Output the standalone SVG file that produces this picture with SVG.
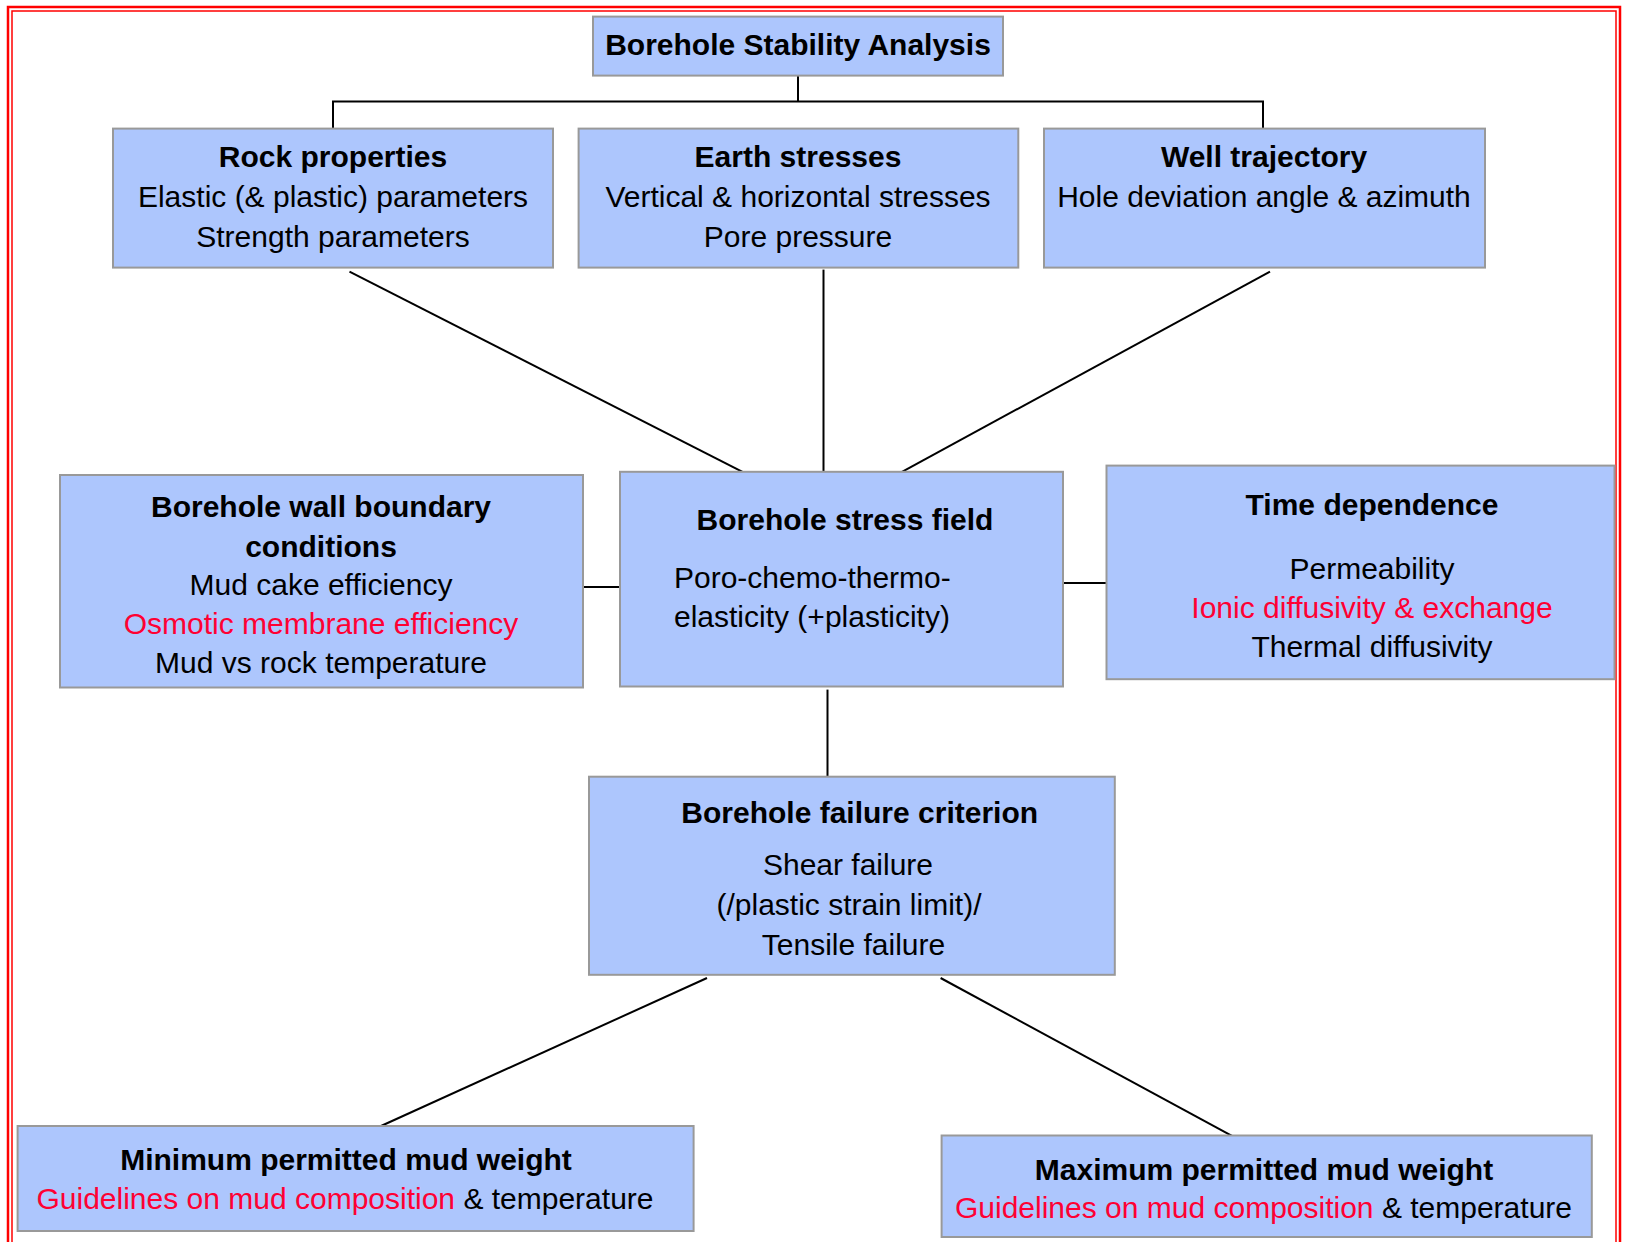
<svg xmlns="http://www.w3.org/2000/svg" width="1626" height="1242" viewBox="0 0 1626 1242">
<style>
.box{fill:#ADC6FD;stroke:#999999;stroke-width:2}
text{font-family:"Liberation Sans",Arial,sans-serif;font-size:30px;fill:#000;text-anchor:middle}
.b{font-weight:bold}
.r{fill:#FF0033}
.k{fill:#000}
.l{text-anchor:start}
#connectors line,#connectors polyline{stroke:#000;stroke-width:2;fill:none}
</style>
<rect x="0" y="0" width="1626" height="1242" fill="#fff"/>
<g id="border" fill="none" stroke="#FF0000">
<path d="M8 1250 V7 H1620 V1250" stroke-width="2.5"/>
<path d="M12 1250 V11 H1616 V1250" stroke-width="1.5"/>
</g>
<g id="connectors">
<line x1="798" y1="76" x2="798" y2="101.5"/>
<polyline points="333,128.6 333,101.5 1263,101.5 1263,128.6"/>
<line x1="349.5" y1="271.7" x2="742.5" y2="471.8"/>
<line x1="823.5" y1="269.6" x2="823.5" y2="471.8"/>
<line x1="1270" y1="271.7" x2="902" y2="471.8"/>
<line x1="583" y1="587" x2="624" y2="587"/>
<line x1="1063" y1="583" x2="1111" y2="583"/>
<line x1="827.5" y1="689.6" x2="827.5" y2="778.8"/>
<line x1="707" y1="978" x2="374.4" y2="1129"/>
<line x1="940.6" y1="978" x2="1237" y2="1138.6"/>
</g>
<g id="n-top">
<rect class="box" x="593" y="16.6" width="410" height="59"/>
<text class="b" x="798" y="55">Borehole Stability Analysis</text>
</g>
<g id="n-rock">
<rect class="box" x="113" y="128.6" width="440" height="139"/>
<text class="b" x="333" y="167">Rock properties</text>
<text x="333" y="207">Elastic (&amp; plastic) parameters</text>
<text x="333" y="247">Strength parameters</text>
</g>
<g id="n-earth">
<rect class="box" x="578.6" y="128.6" width="439.7" height="139"/>
<text class="b" x="798" y="167">Earth stresses</text>
<text x="798" y="207">Vertical &amp; horizontal stresses</text>
<text x="798" y="247">Pore pressure</text>
</g>
<g id="n-well">
<rect class="box" x="1044" y="128.6" width="441" height="139"/>
<text class="b" x="1264" y="167">Well trajectory</text>
<text x="1264" y="207">Hole deviation angle &amp; azimuth</text>
</g>
<g id="n-boundary">
<rect class="box" x="60" y="475" width="523" height="212.5"/>
<text class="b" x="321" y="517">Borehole wall boundary</text>
<text class="b" x="321" y="557">conditions</text>
<text x="321" y="595">Mud cake efficiency</text>
<text class="r" x="321" y="634">Osmotic membrane efficiency</text>
<text x="321" y="673">Mud vs rock temperature</text>
</g>
<g id="n-stress">
<rect class="box" x="620" y="471.8" width="443" height="214.7"/>
<text class="b" x="845" y="530">Borehole stress field</text>
<text class="l" x="674" y="588">Poro-chemo-thermo-</text>
<text class="l" x="674" y="627">elasticity (+plasticity)</text>
</g>
<g id="n-time">
<rect class="box" x="1106.5" y="465.6" width="508" height="213.6"/>
<text class="b" x="1372" y="515">Time dependence</text>
<text x="1372" y="579">Permeability</text>
<text class="r" x="1372" y="618">Ionic diffusivity &amp; exchange</text>
<text x="1372" y="657">Thermal diffusivity</text>
</g>
<g id="n-failure">
<rect class="box" x="589" y="776.7" width="525.8" height="198.1"/>
<text class="b" x="859.7" y="823">Borehole failure criterion</text>
<text x="848" y="875">Shear failure</text>
<text x="849" y="915">(/plastic strain limit)/</text>
<text x="853.5" y="955">Tensile failure</text>
</g>
<g id="n-min">
<rect class="box" x="17.6" y="1126" width="676" height="105"/>
<text class="b" x="346" y="1170">Minimum permitted mud weight</text>
<text x="345" y="1209"><tspan class="r">Guidelines on mud composition</tspan> &amp; temperature</text>
</g>
<g id="n-max">
<rect class="box" x="941.6" y="1135.5" width="650.2" height="101.5"/>
<text class="b" x="1264" y="1180">Maximum permitted mud weight</text>
<text x="1263.5" y="1218"><tspan class="r">Guidelines on mud composition</tspan> &amp; temperature</text>
</g>
</svg>
